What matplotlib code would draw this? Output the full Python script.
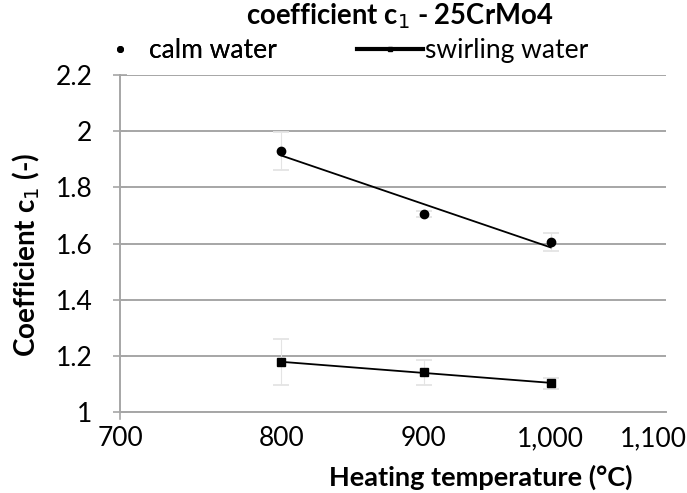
import numpy as np
import matplotlib
matplotlib.use("Agg")
import matplotlib.pyplot as plt
import matplotlib.transforms as mtrans
from matplotlib.ticker import FixedLocator, NullLocator
from matplotlib.lines import Line2D

# datos
temp = [800, 900, 1000]
calm = [1.93, 1.705, 1.605]
calm_err = [0.068, 0.01, 0.033]
swirl = [1.178, 1.142, 1.103]
swirl_err = [0.083, 0.045, 0.02]

x_ticks = [700, 800, 900, 1000, 1100]
x_labels = ["700", "800", "900", "1,000", "1,100"]
y_ticks = [1, 1.2, 1.4, 1.6, 1.8, 2, 2.2]
y_labels = ["1", "1.2", "1.4", "1.6", "1.8", "2", "2.2"]

plt.rcParams["font.family"] = ["Lato", "DejaVu Sans"]
fs = 19

fig = plt.figure(figsize=(6.87, 4.93), dpi=100)
ax = fig.add_axes([0.175, 0.164, 0.794, 0.684])

grid_c = "#a6a6a6"


def serie(y, err, marker, ms):
    eb = ax.errorbar(temp, y, yerr=err, fmt=marker, color="black", ms=ms,
                     ecolor="#e4e4e4", elinewidth=0.8, capsize=6, capthick=1.3)
    for cap in eb[1]:
        cap.set_color("black")
    # linea de tendencia (ajuste lineal en log x)
    p = np.polyfit(np.log10(temp), y, 1)
    xx = np.array([temp[0], temp[-1]])
    ax.plot(xx, np.polyval(p, np.log10(xx)), color="black", lw=1.3)


serie(calm, calm_err, "o", 6)
serie(swirl, swirl_err, "s", 5.5)

ax.set_xscale("log")
ax.set_xlim(700, 1100)
ax.set_ylim(1, 2.2)
ax.xaxis.set_major_locator(FixedLocator(x_ticks))
ax.xaxis.set_minor_locator(NullLocator())
ax.set_xticklabels(x_labels)
ax.set_yticks(y_ticks)
ax.set_yticklabels(y_labels)

ax.grid(axis="y", color=grid_c, lw=1.4)
ax.set_axisbelow(True)
for s in ["top", "right"]:
    ax.spines[s].set_visible(False)
ax.spines["left"].set_color(grid_c)
ax.spines["bottom"].set_color(grid_c)
ax.spines["left"].set_linewidth(1.4)
ax.spines["bottom"].set_linewidth(1.4)
ax.tick_params(axis="y", direction="inout", length=10, color=grid_c, width=1.2,
               labelsize=fs, pad=15)
ax.tick_params(axis="x", length=0, labelsize=fs, pad=10)
ax.plot([700, 700], [0.975, 1.0], color=grid_c, lw=1.2, clip_on=False)

# la ultima etiqueta del eje x va algo a la izquierda
last = ax.get_xticklabels()[-1]
last.set_transform(last.get_transform() +
                   mtrans.ScaledTranslation(-12 / 100, 0, fig.dpi_scale_trans))

ax.set_xlabel("Heating temperature (°C)", fontsize=19.5, fontweight="bold", va="center")
ax.xaxis.set_label_coords(0.661, -0.192)
ax.set_ylabel("Coefficient c$_1$ (-)", fontsize=20, fontweight="bold", va="center")
ax.yaxis.set_label_coords(-0.172, 0.465)
fig.text(0.582, 0.968, "coefficient c$_1$ - 25CrMo4", fontsize=19.8,
         fontweight="bold", ha="center", va="center")

leg1 = fig.legend([Line2D([], [], ls="none", marker="o", ms=4, color="black")],
                  ["calm water"], loc="center left", bbox_to_anchor=(0.14, 0.898),
                  frameon=False, fontsize=fs, handlelength=1.0,
                  handletextpad=0.6, borderaxespad=0)
fig.add_artist(leg1)
fig.legend([Line2D([], [], color="black", lw=3, marker="s", ms=3)],
           ["swirling water"], loc="center left", bbox_to_anchor=(0.505, 0.898),
           frameon=False, fontsize=fs, handlelength=2.5,
           handletextpad=0.05, borderaxespad=0)

fig.savefig("out.png", dpi=100)
